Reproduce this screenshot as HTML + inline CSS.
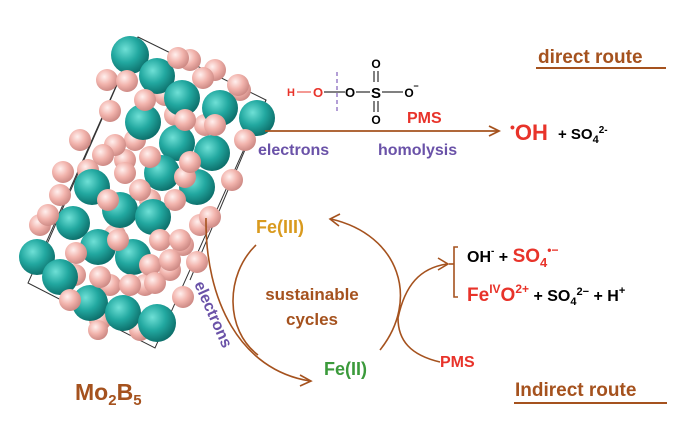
<!DOCTYPE html>
<html><head><meta charset="utf-8"><style>
html,body{margin:0;padding:0;background:#fff;}
svg{display:block;font-family:"Liberation Sans",Arial,sans-serif;font-weight:bold;}
</style></head><body>
<svg width="700" height="421" viewBox="0 0 700 421" xmlns="http://www.w3.org/2000/svg">
<defs>
<radialGradient id="t" cx="0.38" cy="0.35" r="0.7"><stop offset="0" stop-color="#6fe0d6"/><stop offset="0.5" stop-color="#22a8a0"/><stop offset="1" stop-color="#0b6a66"/></radialGradient>
<radialGradient id="p" cx="0.38" cy="0.35" r="0.7"><stop offset="0" stop-color="#fff0ee"/><stop offset="0.5" stop-color="#f2b4ad"/><stop offset="1" stop-color="#c98580"/></radialGradient>
</defs>
<g stroke="#333" stroke-width="1" fill="none">
<polygon points="138,37 266,100 155,348 28,283"/>
<line x1="138" y1="37" x2="40" y2="260"/>
<line x1="266" y1="100" x2="190" y2="280"/>
</g>
<g>
<g fill="url(#p)">
<circle cx="107" cy="80" r="11"/><circle cx="110" cy="111" r="11"/><circle cx="80" cy="140" r="11"/><circle cx="88" cy="170" r="11"/><circle cx="60" cy="195" r="11"/><circle cx="40" cy="225" r="11"/><circle cx="125" cy="160" r="11"/><circle cx="150" cy="200" r="11"/><circle cx="115" cy="235" r="11"/><circle cx="75" cy="275" r="11"/><circle cx="110" cy="285" r="11"/><circle cx="145" cy="285" r="11"/><circle cx="170" cy="270" r="11"/><circle cx="183" cy="245" r="11"/><circle cx="200" cy="225" r="11"/><circle cx="190" cy="60" r="11"/><circle cx="215" cy="70" r="11"/><circle cx="240" cy="90" r="11"/><circle cx="175" cy="115" r="11"/><circle cx="205" cy="125" r="11"/><circle cx="100" cy="320" r="11"/><circle cx="140" cy="330" r="11"/><circle cx="165" cy="95" r="11"/><circle cx="135" cy="140" r="11"/>
</g>
<g fill="url(#t)">
<circle cx="130" cy="55" r="19"/><circle cx="157" cy="76" r="18"/><circle cx="182" cy="98" r="18"/><circle cx="220" cy="108" r="18"/><circle cx="257" cy="118" r="18"/><circle cx="143" cy="122" r="18"/><circle cx="177" cy="143" r="18"/><circle cx="212" cy="153" r="18"/><circle cx="162" cy="173" r="18"/><circle cx="197" cy="187" r="18"/><circle cx="92" cy="187" r="18"/><circle cx="120" cy="210" r="18"/><circle cx="153" cy="217" r="18"/><circle cx="73" cy="223" r="17"/><circle cx="98" cy="247" r="18"/><circle cx="133" cy="257" r="18"/><circle cx="37" cy="257" r="18"/><circle cx="60" cy="277" r="18"/><circle cx="90" cy="303" r="18"/><circle cx="123" cy="313" r="18"/><circle cx="157" cy="323" r="19"/>
</g>
<g fill="url(#p)">
<circle cx="178" cy="58" r="11"/><circle cx="203" cy="78" r="11"/><circle cx="238" cy="85" r="11"/><circle cx="127" cy="81" r="11"/><circle cx="145" cy="100" r="11"/><circle cx="115" cy="145" r="11"/><circle cx="125" cy="173" r="11"/><circle cx="150" cy="157" r="11"/><circle cx="185" cy="120" r="11"/><circle cx="215" cy="125" r="11"/><circle cx="245" cy="140" r="11"/><circle cx="232" cy="180" r="11"/><circle cx="210" cy="217" r="11"/><circle cx="108" cy="200" r="11"/><circle cx="140" cy="190" r="11"/><circle cx="175" cy="200" r="11"/><circle cx="185" cy="177" r="11"/><circle cx="63" cy="172" r="11"/><circle cx="48" cy="215" r="11"/><circle cx="118" cy="240" r="11"/><circle cx="160" cy="240" r="11"/><circle cx="180" cy="240" r="11"/><circle cx="150" cy="265" r="11"/><circle cx="170" cy="260" r="11"/><circle cx="76" cy="253" r="11"/><circle cx="100" cy="277" r="11"/><circle cx="130" cy="285" r="11"/><circle cx="155" cy="283" r="11"/><circle cx="183" cy="297" r="11"/><circle cx="197" cy="262" r="11"/><circle cx="70" cy="300" r="11"/><circle cx="98" cy="330" r="10"/><circle cx="190" cy="162" r="11"/><circle cx="103" cy="155" r="11"/></g>
</g>
<text x="538" y="63" font-size="19" fill="#a5521e">direct route</text>
<line x1="536" y1="68" x2="666" y2="68" stroke="#a5521e" stroke-width="2"/>
<text x="515" y="396" font-size="19" fill="#a5521e">Indirect route</text>
<line x1="514" y1="403" x2="667" y2="403" stroke="#a5521e" stroke-width="2"/>
<g font-size="13" text-anchor="middle">
<text x="291" y="96" fill="#e8332a" font-size="11">H</text>
<line x1="297" y1="92" x2="311" y2="92" stroke="#e8332a" stroke-width="1"/>
<text x="318" y="97" fill="#e8332a">O</text>
<line x1="324" y1="92" x2="345" y2="92" stroke="#000" stroke-width="1"/>
<line x1="337" y1="72" x2="337" y2="112" stroke="#8a6bbf" stroke-width="1.3" stroke-dasharray="4,3"/>
<text x="350" y="97" fill="#000">O</text>
<line x1="356" y1="92" x2="370" y2="92" stroke="#000" stroke-width="1"/>
<text x="376" y="98" fill="#000" font-size="15">S</text>
<line x1="382" y1="92" x2="403" y2="92" stroke="#000" stroke-width="1"/>
<text x="409" y="97" fill="#000" font-size="12">O</text><text x="416" y="89" font-size="9">−</text>
<text x="376" y="68" fill="#000" font-size="12">O</text>
<line x1="374" y1="71" x2="374" y2="82" stroke="#000"/><line x1="378" y1="71" x2="378" y2="82" stroke="#000"/>
<line x1="374" y1="101" x2="374" y2="112" stroke="#000"/><line x1="378" y1="101" x2="378" y2="112" stroke="#000"/>
<text x="376" y="124" fill="#000" font-size="12">O</text>
</g>
<text x="407" y="123" font-size="16" fill="#e8332a">PMS</text>
<line x1="265" y1="131" x2="498" y2="131" stroke="#a5521e" stroke-width="1.8"/>
<polyline points="489,126 499,131 489,136" fill="none" stroke="#a5521e" stroke-width="1.8"/>
<text x="258" y="155" font-size="16" fill="#6a52a8">electrons</text>
<text x="378" y="155" font-size="16" fill="#6a52a8">homolysis</text>
<text x="510" y="140" font-size="22" fill="#e8332a"><tspan font-size="14" dy="-8">•</tspan><tspan dy="8">OH</tspan></text>
<text x="558" y="139" font-size="15" fill="#000">+ SO<tspan font-size="11" dy="4">4</tspan><tspan font-size="10" dy="-10">2-</tspan></text>
<text x="256" y="233" font-size="18" fill="#d99a1e">Fe(III)</text>
<text x="324" y="375" font-size="18" fill="#3b9a3b">Fe(II)</text>
<text x="312" y="300" font-size="17" fill="#a5521e" text-anchor="middle">sustainable</text>
<text x="312" y="325" font-size="17" fill="#a5521e" text-anchor="middle">cycles</text>
<g fill="none" stroke="#a5521e" stroke-width="1.6">
<path d="M256,245 C225,275 225,330 258,355"/>
<path d="M206,218 C205,300 240,370 310,381"/>
<polyline points="300,375 311,381 300,386"/>
<path d="M380,350 C420,300 400,235 331,219"/>
<polyline points="340,214 330,219 339,226"/>
<path d="M398,318 C405,285 420,268 447,264"/>
<polyline points="438,258 448,264 438,270"/>
<path d="M440,362 C410,355 398,340 398,318"/>
<path d="M458,247 L454,247 L454,297 L458,297"/>
<line x1="449" y1="264" x2="454" y2="264"/>
</g>
<text x="440" y="367" font-size="16" fill="#e8332a">PMS</text>
<text x="467" y="262" font-size="16" fill="#000">OH<tspan font-size="10" dy="-8">-</tspan><tspan dy="8"> + </tspan><tspan fill="#e8332a" font-size="19">SO</tspan><tspan fill="#e8332a" font-size="13" dy="5">4</tspan><tspan fill="#e8332a" font-size="12" dy="-13">•−</tspan></text>
<text x="467" y="301" font-size="19" fill="#e8332a">Fe<tspan font-size="12" dy="-8">IV</tspan><tspan dy="8">O</tspan><tspan font-size="12" dy="-8">2+</tspan><tspan fill="#000" font-size="16" dy="8"> + SO</tspan><tspan fill="#000" font-size="11" dy="4">4</tspan><tspan fill="#000" font-size="11" dy="-10">2−</tspan><tspan fill="#000" font-size="16" dy="6"> + H</tspan><tspan fill="#000" font-size="11" dy="-7">+</tspan></text>
<text x="0" y="0" font-size="16" fill="#6a52a8" transform="translate(194,284) rotate(66)">electrons</text>
<text x="75" y="400" font-size="23" fill="#a5521e">Mo<tspan font-size="15" dy="5">2</tspan><tspan dy="-5">B</tspan><tspan font-size="15" dy="5">5</tspan></text>
</svg>
</body></html>
